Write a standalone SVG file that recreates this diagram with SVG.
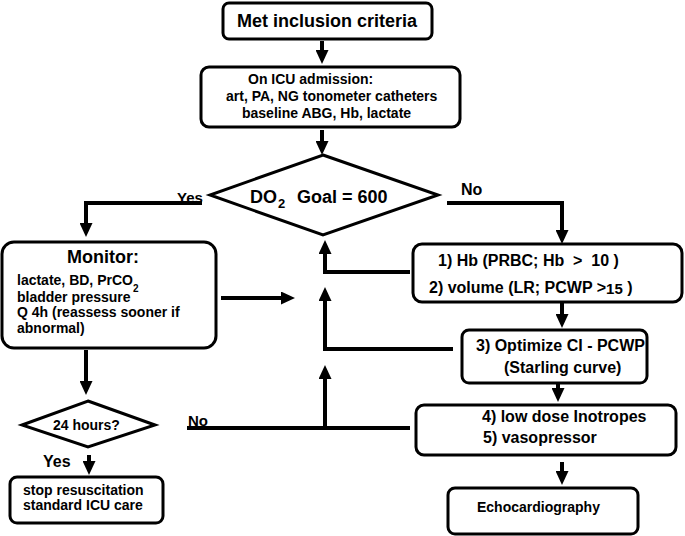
<svg xmlns="http://www.w3.org/2000/svg" width="685" height="536" viewBox="0 0 685 536">
<style>
  .box { fill: #fff; stroke: #000; stroke-width: 3; }
  .t { font-family: "Liberation Sans", Arial, sans-serif; font-weight: bold; fill: #000; white-space: pre; }
  .c { fill: none; stroke: #000; stroke-width: 4; }
  .arr { marker-end: url(#ah); }
</style>
<defs>
  <marker id="ah" markerUnits="userSpaceOnUse" markerWidth="14" markerHeight="13" refX="3" refY="6.5" orient="auto">
    <path d="M0,0 L14,6.5 L0,13 z" fill="#000"/>
  </marker>
</defs>
<rect width="685" height="536" fill="#fff"/>

<g id="connectors">
  <path class="c arr" d="M322,41 V53"/>
  <path class="c arr" d="M322,130 V144"/>
  <path class="c" d="M202,203 H86"/>
  <path class="c arr" d="M86,201 V226"/>
  <path class="c" d="M447,203 H562"/>
  <path class="c arr" d="M562,201 V233"/>
  <path class="c arr" d="M221,298 H284"/>
  <path class="c" d="M410,272 H325"/>
  <path class="c arr" d="M325,274 V251"/>
  <path class="c" d="M453,349 H325"/>
  <path class="c arr" d="M325,351 V298"/>
  <path class="c" d="M187,428 H410"/>
  <path class="c arr" d="M325,428 V376"/>
  <path class="c arr" d="M562,302 V317"/>
  <path class="c arr" d="M558,383 V391"/>
  <path class="c arr" d="M562,462 V474"/>
  <path class="c arr" d="M86,350 V384"/>
  <path class="c arr" d="M89,455 V464"/>
</g>

<g id="n1">
  <rect class="box" x="223" y="3" width="209" height="36" rx="6"/>
  <text class="t" x="237" y="27" font-size="18">Met inclusion criteria</text>
</g>

<g id="n2">
  <rect class="box" x="201" y="67" width="259" height="60" rx="8"/>
  <text class="t" x="248" y="84" font-size="14">On ICU admission:</text>
  <text class="t" x="226" y="101" font-size="14">art, PA, NG tonometer catheters</text>
  <text class="t" x="242" y="118" font-size="14">baseline ABG, Hb, lactate</text>
</g>

<g id="n3">
  <polygon points="323,155 438,195 323,235 210,195" fill="#fff" stroke="#000" stroke-width="3" stroke-linejoin="miter"/>
  <text class="t" x="250" y="203" font-size="18">DO</text>
  <text class="t" x="278" y="208" font-size="13">2</text>
  <text class="t" x="297" y="203" font-size="18">Goal = 600</text>
  <text class="t" x="177" y="203" font-size="15">Yes</text>
  <text class="t" x="461" y="195" font-size="16">No</text>
</g>

<g id="n4">
  <rect class="box" x="2" y="242" width="214" height="106" rx="12"/>
  <text class="t" x="67" y="263" font-size="18">Monitor:</text>
  <text class="t" x="17" y="285" font-size="14">lactate, BD, PrCO</text>
  <text class="t" x="133" y="292" font-size="10">2</text>
  <text class="t" x="17" y="302" font-size="14">bladder pressure</text>
  <text class="t" x="17" y="317" font-size="14">Q 4h (reassess sooner if</text>
  <text class="t" x="17" y="333" font-size="14">abnormal)</text>
</g>

<g id="n5">
  <rect class="box" x="413" y="244" width="269" height="58" rx="9"/>
  <text class="t" x="438" y="266" font-size="16">1) Hb (PRBC; Hb  &gt;  10 )</text>
  <text class="t" x="429" y="293" font-size="16">2) volume (LR; PCWP &gt;<tspan font-size="15" dy="1">15</tspan><tspan dy="-1"> )</tspan></text>
</g>

<g id="n6">
  <rect class="box" x="462" y="330" width="185" height="53" rx="7"/>
  <text class="t" x="476" y="351" font-size="16">3) Optimize CI - PCWP</text>
  <text class="t" x="504" y="373" font-size="16">(Starling curve)</text>
</g>

<g id="n7">
  <rect class="box" x="416" y="405" width="260" height="50" rx="8"/>
  <text class="t" x="482" y="422" font-size="16">4) low dose Inotropes</text>
  <text class="t" x="483" y="443" font-size="16">5) vasopressor</text>
</g>

<g id="n8">
  <rect class="box" x="448" y="488" width="190" height="46" rx="7"/>
  <text class="t" x="477" y="512" font-size="14">Echocardiography</text>
</g>

<g id="n9">
  <polygon points="88,401 155,425 88,447 22,425" fill="#fff" stroke="#000" stroke-width="3"/>
  <text class="t" x="53" y="430" font-size="14">24 hours?</text>
  <text class="t" x="188" y="426" font-size="15">No</text>
  <text class="t" x="43" y="467" font-size="16">Yes</text>
</g>

<g id="n10">
  <rect class="box" x="10" y="477" width="153" height="46" rx="7"/>
  <text class="t" x="23" y="495" font-size="14">stop resuscitation</text>
  <text class="t" x="23" y="510" font-size="14">standard ICU care</text>
</g>
</svg>
